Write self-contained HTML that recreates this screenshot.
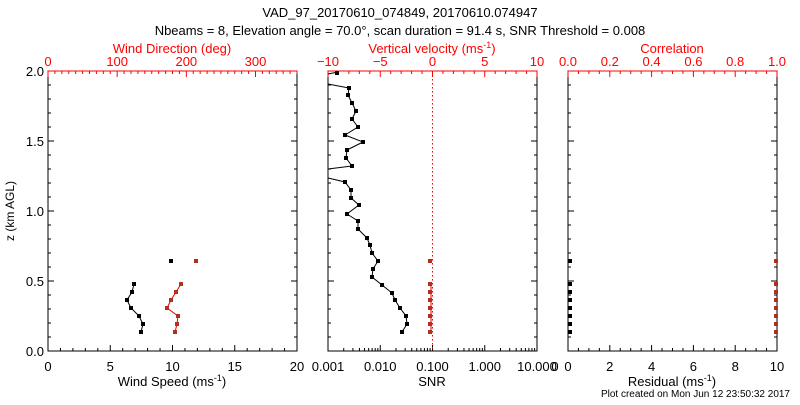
<!DOCTYPE html>
<html><head><meta charset="utf-8"><style>
body{margin:0;background:#fff}
svg text{font-family:"Liberation Sans","DejaVu Sans",sans-serif;font-size:13px}
</style></head><body>
<svg id="s" width="800" height="400" xmlns="http://www.w3.org/2000/svg">
<rect width="800" height="400" fill="#fff"/>
<text x="400" y="17" text-anchor="middle">VAD_97_20170610_074849, 20170610.074947</text>
<text x="400" y="35" text-anchor="middle">Nbeams = 8, Elevation angle = 70.0°, scan duration = 91.4 s, SNR Threshold = 0.008</text>
<text transform="translate(14,211) rotate(-90)" text-anchor="middle" style="font-size:12px">z (km AGL)</text>
<text x="172" y="53" text-anchor="middle" fill="#f00">Wind Direction (deg)</text>
<text x="432" y="53" text-anchor="middle" fill="#f00">Vertical velocity (ms<tspan dy="-5" style="font-size:9px">-1</tspan><tspan dy="5">)</tspan></text>
<text x="672" y="53" text-anchor="middle" fill="#f00">Correlation</text>
<text x="172" y="386" text-anchor="middle">Wind Speed (ms<tspan dy="-5" style="font-size:9px">-1</tspan><tspan dy="5">)</tspan></text>
<text x="432" y="386" text-anchor="middle">SNR</text>
<text x="672" y="386" text-anchor="middle">Residual (ms<tspan dy="-5" style="font-size:9px">-1</tspan><tspan dy="5">)</tspan></text>
<text x="790" y="397" text-anchor="end" style="font-size:10px">Plot created on Mon Jun 12 23:50:32 2017</text>
<text x="555" y="371" text-anchor="middle">0</text>
<g id="g"></g>
</svg>
<script>
var g=document.getElementById('g'),o='';
var T=71,B=351;
function L(x1,y1,x2,y2,c,extra){o+='<line x1="'+x1+'" y1="'+y1+'" x2="'+x2+'" y2="'+y2+'" stroke="'+c+'" stroke-width="1" '+(extra||'')+'/>';}
function Tx(x,y,s,c,a){o+='<text x="'+x+'" y="'+y+'" fill="'+c+'" text-anchor="'+(a||'middle')+'">'+s+'</text>';}
function frame(l,r){
 o+='<rect x="'+l+'" y="'+T+'" width="'+(r-l)+'" height="'+(B-T)+'" fill="none" stroke="#000"/>';
 for(var i=0;i<=20;i++){var y=B-(B-T)*i/20,len=i%5==0?6:3;L(l,y,l+len,y,'#000');L(r,y,r-len,y,'#000');}
}
function lin(l,r,v0,v1,maj,mn,top,c,fmt){
 var n=Math.round((v1-v0)/mn);
 for(var i=0;i<=n;i++){var v=v0+i*mn,x=l+(r-l)*i/n;var isM=Math.abs(v/maj-Math.round(v/maj))<1e-6;var len=isM?6:3;
  if(top){L(x,T,x,T+len,c);if(isM)Tx(x,T-5,fmt(v),c);}else{L(x,B,x,B-len,c);if(isM)Tx(x,B+20,fmt(v),c);}}
 if(top)L(l,T,r,T,c);
}
frame(48,297);
for(var k=0;k<=4;k++)Tx(44,B-(B-T)*k/4+5,(k*0.5).toFixed(1),'#000','end');
lin(48,297,0,20,5,1,false,'#000',function(v){return v});
lin(48,297,0,360,100,10,true,'#f00',function(v){return v});
frame(328,537);
var dec=(537-328)/4;
for(var d=0;d<4;d++){for(var m=1;m<10;m++){var x=328+dec*(d+Math.log10(m));L(x,B,x,B-(m==1?6:3),'#000');}}
L(537,B,537,B-6,'#000');
['0.001','0.010','0.100','1.000','10.000'].forEach(function(s,i){Tx(328+dec*i,B+20,s,'#000');});
lin(328,537,-10,10,5,1,true,'#f00',function(v){return v<0?'\u2212'+(-v):v});
L(432.5,T,432.5,B,'#f00','stroke-dasharray="1.5,2.5"');
frame(568,777);
lin(568,777,0,10,2,0.5,false,'#000',function(v){return v});
lin(568,777,0,1,0.2,0.05,true,'#f00',function(v){return v.toFixed(1)});
function pl(pts,c){o+='<polyline fill="none" stroke="'+c+'" stroke-width="1" points="'+pts.map(function(p){return p.join(',')}).join(' ')+'"/>';}
function dots(pts,c){pts.forEach(function(p){o+='<rect x="'+(p[0]-2)+'" y="'+(p[1]-2)+'" width="4" height="4" fill="'+c+'"/>';});}
var ys=[284,292,300,308,316,324,332];
var bs=[134,132,127,131,139,143,141].map(function(x,i){return [x,ys[i]]});
var rs=[181,176,171,167,178,177,175].map(function(x,i){return [x,ys[i]]});
pl(bs,'#000');dots(bs,'#000');dots([[171,261]],'#000');
pl(rs,'#e00');dots(rs,'#b03020');dots([[196,261]],'#b03020');
var snr=[[349,88],[348,95],[352,103],[356,111],[352,119],[358,127],[345,135],[363,142],[347,150],[346,158],[352,166],[328,169]];
var snr2=[[328,178],[345,182],[351,190],[351,198],[359,205],[347,214],[358,221],[358,229],[367,238],[370,245],[372,253],[378,261],[373,269],[372,277],[382,285],[392,293],[395,300],[400,308],[406,316],[407,324],[402,332]];
pl([[328,74],[338,72]],'#000');pl([[328,84]].concat(snr),'#000');pl(snr2,'#000');
dots([[337,73]],'#000');dots(snr.slice(0,11),'#000');dots(snr2.slice(1),'#000');
var wy=[261].concat(ys);
pl(ys.map(function(y){return [431,y]}),'#e00');
dots(wy.map(function(y){return [430,y]}),'#b03020');
dots(wy.map(function(y){return [570,y]}),'#000');
dots(wy.map(function(y){return [776,y]}),'#b03020');
g.innerHTML=o;
</script>
</body></html>
